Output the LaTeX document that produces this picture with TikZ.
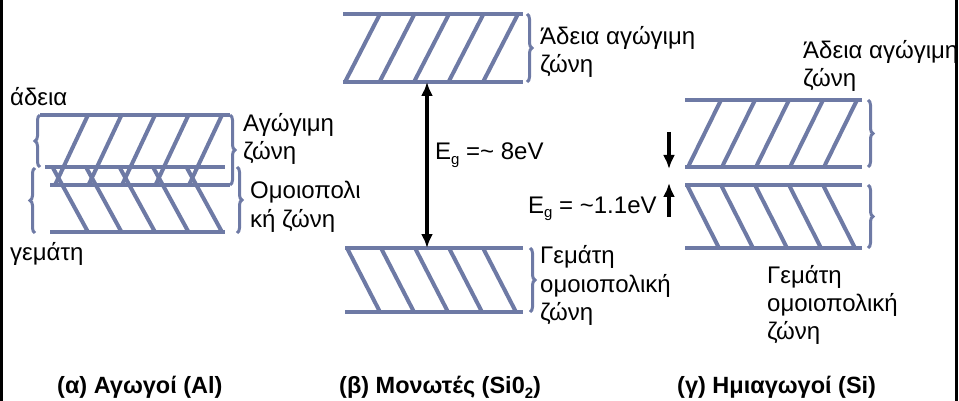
\documentclass[tikz,border=0pt]{standalone}
\usepackage{fontspec}
\setmainfont{Liberation Sans}
\usetikzlibrary{decorations.pathreplacing,arrows.meta}
\definecolor{bandc}{RGB}{110,122,165}
\newcommand{\subg}{\raisebox{-5pt}{\fontsize{15}{15}\selectfont g}}
\begin{document}
\begin{tikzpicture}[x=1pt,y=-1pt,
 bl/.style={draw=bandc,line width=4pt},
 brc/.style={draw=bandc,line width=3pt,decorate,decoration={brace,amplitude=5pt}},
 lbl/.style={anchor=base west,inner sep=0pt,font=\fontsize{24}{28}\selectfont},
 captxt/.style={anchor=base west,inner sep=0pt,font=\fontsize{23.5}{26}\selectfont\bfseries},
 garr/.style={line width=3.5pt,-{Latex[length=14pt,width=12pt]}}]
\useasboundingbox (0,0) rectangle (959,401);
% side border lines
\draw[line width=3pt] (1.5,0) -- (1.5,401);
\draw[line width=3pt] (956.5,0) -- (956.5,401);

% ---------- (a) conductors ----------
\draw[bl] (40,115) -- (230,115);
\draw[bl] (45,167) -- (225,167);
\draw[bl] (50,185) -- (230,185);
\draw[bl] (50,232) -- (225,232);
\foreach \k in {0,...,4}{
  \draw[bl] (55+33.5*\k,185) -- (88+33.5*\k,115);
  \draw[bl] (53+33.5*\k,168) -- (88+33.5*\k,232);
}
\draw[brc] (40,167) -- (40,115);
\draw[brc] (230,115) -- (230,185);
\draw[brc] (35,233) -- (35,168);
\draw[brc] (237,167) -- (237,233);
\node[lbl] (a1) at (10,106) {άδεια};
\node[lbl] (a2) at (243,132) {Αγώγιμη};
\node[lbl] (a3) at (243,160) {ζώνη};
\node[lbl] (a4) at (250,198) {Ομοιοπολι};
\node[lbl] (a5) at (250,227) {κή ζώνη};
\node[lbl] (a6) at (10,260) {γεμάτη};

% ---------- (b) insulators ----------
\draw[bl] (343,14) -- (523,14);
\draw[bl] (343,82) -- (523,82);
\foreach \k in {0,...,4}{
  \draw[bl] (345+34.5*\k,82) -- (380+34.5*\k,14);
}
\draw[brc] (527,14) -- (527,82);
\draw[bl] (345,248) -- (523,248);
\draw[bl] (345,312) -- (523,312);
\foreach \k in {0,...,4}{
  \draw[bl] (347+34*\k,248) -- (380+34*\k,312);
}
\draw[brc] (530,248) -- (530,312);
\coordinate (bt) at (427,82);
\coordinate (bb) at (427,248);
\draw[line width=3.5pt,{Latex[length=14pt,width=12pt]}-{Latex[length=14pt,width=12pt]}] (bt) -- (bb);
\node[lbl] (b1) at (540,45) {Άδεια αγώγιμη};
\node[lbl] (b2) at (540,73) {ζώνη};
\node[lbl] (b3) at (540,263) {Γεμάτη};
\node[lbl] (b4) at (540,292) {ομοιοπολική};
\node[lbl] (b5) at (540,320) {ζώνη};
\node[lbl] (b6) at (435,160) {E\subg\ =\textasciitilde\ 8eV};

% ---------- (c) semiconductors ----------
\draw[bl] (685,100) -- (862,100);
\draw[bl] (685,167) -- (862,167);
\foreach \k in {0,...,4}{
  \draw[bl] (688+34*\k,167) -- (721+34*\k,100);
}
\draw[brc] (868,100) -- (868,167);
\draw[bl] (685,185) -- (862,185);
\draw[bl] (685,248) -- (862,248);
\foreach \k in {0,...,4}{
  \draw[bl] (687+34*\k,185) -- (719+34*\k,248);
}
\draw[brc] (868,185) -- (868,248);
\coordinate (c1s) at (669,132);
\coordinate (c1e) at (669,169);
\coordinate (c2s) at (669,217);
\coordinate (c2e) at (669,183);
\draw[garr] (c1s) -- (c1e);
\draw[garr] (c2s) -- (c2e);
\node[lbl] (c1) at (803,59) {Άδεια αγώγιμη};
\node[lbl] (c2) at (803,87) {ζώνη};
\node[lbl] (c3) at (767,283) {Γεμάτη};
\node[lbl] (c4) at (767,311) {ομοιοπολική};
\node[lbl] (c5) at (767,339) {ζώνη};
\node[lbl] (c6) at (528,213) {E\subg\ = \textasciitilde1.1eV};

% ---------- captions ----------
\node[captxt] (ca) at (57,393) {(α) Αγωγοί (Al)};
\node[captxt] (cb) at (339,393) {(β) Μονωτές (Si0\raisebox{-5pt}{\fontsize{15}{15}\selectfont 2})};
\node[captxt] (cc) at (677,393) {(γ) Ημιαγωγοί (Si)};
\end{tikzpicture}
\end{document}
